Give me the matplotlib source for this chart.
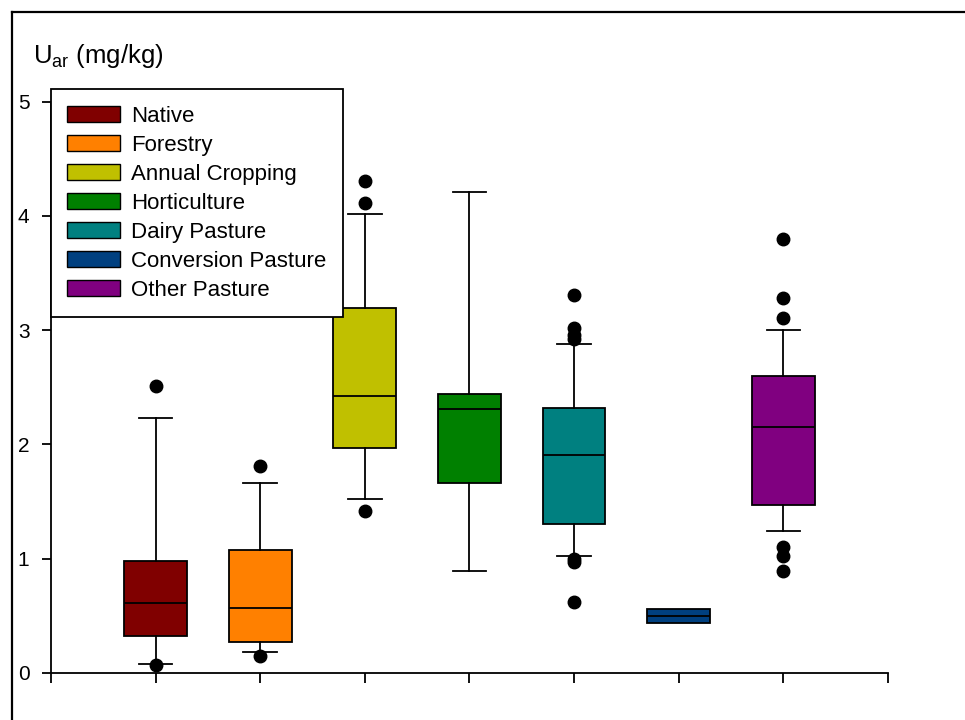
import numpy as np
import matplotlib
matplotlib.use("Agg")
import matplotlib.pyplot as plt
from matplotlib.patches import Patch
from matplotlib.lines import Line2D

plt.rcParams['font.family'] = ['Liberation Sans', 'DejaVu Sans']

# land use classes and box statistics (mg/kg)
labels = ["Native", "Forestry", "Annual Cropping", "Horticulture",
          "Dairy Pasture", "Conversion Pasture", "Other Pasture"]
colors = ["#800000", "#FF8000", "#C0C000", "#008000",
          "#008080", "#004080", "#800080"]
q1 = [0.32, 0.27, 1.97, 1.66, 1.30, 0.44, 1.47]
med = [0.61, 0.57, 2.42, 2.31, 1.91, 0.50, 2.15]
q3 = [0.98, 1.08, 3.19, 2.44, 2.32, 0.56, 2.60]
whislo = [0.08, 0.18, 1.52, 0.89, 1.02, 0.44, 1.24]
whishi = [2.23, 1.66, 4.02, 4.21, 2.88, 0.56, 3.00]
fliers = [[2.51, 0.07],
          [1.81, 0.15],
          [4.31, 4.11, 1.42],
          [],
          [3.31, 3.02, 2.96, 2.92, 1.00, 0.97, 0.62],
          [],
          [3.80, 3.28, 3.11, 1.10, 1.02, 0.89]]

stats = []
for i in range(len(labels)):
    stats.append(dict(q1=q1[i], med=med[i], q3=q3[i], whislo=whislo[i],
                      whishi=whishi[i], fliers=fliers[i], label=labels[i]))

fig = plt.figure(figsize=(9.65, 7.2), dpi=100)
ax = fig.add_axes([0.0528, 0.0653, 0.8674, 0.7935])

pos = np.arange(1, len(labels) + 1)
bp = ax.bxp(stats, positions=pos, widths=0.6, patch_artist=True,
            boxprops=dict(lw=1.3, edgecolor='black'),
            medianprops=dict(color='black', lw=1.3),
            whiskerprops=dict(color='black', lw=1.3),
            capprops=dict(color='black', lw=1.3),
            capwidths=0.32,
            flierprops=dict(marker='o', markerfacecolor='black',
                            markeredgecolor='black', markersize=9))
for b, c in zip(bp['boxes'], colors):
    b.set_facecolor(c)
# no whiskers on the conversion pasture box
for ln in bp['caps'][10:12]:
    ln.set_visible(False)

ax.set_xlim(0, 8)
ax.set_ylim(0, 5)
ax.set_xticks(np.arange(0, 9))
ax.set_xticklabels([])
ax.set_yticks(np.arange(0, 6))
ax.tick_params(axis='y', direction='out', length=6.5, width=1.3, labelsize=15, pad=9)
ax.tick_params(axis='x', direction='out', length=7, width=1.3)
for s in ['top', 'right']:
    ax.spines[s].set_visible(False)
for s in ['left', 'bottom']:
    ax.spines[s].set_linewidth(1.3)

fig.text(0.034, 0.9125, "U$_{\\mathregular{ar}}$ (mg/kg)", fontsize=18.5,
         va='baseline', ha='left')

handles = [Patch(facecolor=c, edgecolor='black', lw=1.0) for c in colors]
leg = fig.legend(handles, labels, loc='upper left',
                 bbox_to_anchor=(0.0525, 0.8764), fontsize=16,
                 fancybox=False, framealpha=1, edgecolor='black',
                 handlelength=2.35, handleheight=0.72, labelspacing=0.36,
                 borderpad=0.75, handletextpad=0.5, borderaxespad=0)
leg.get_frame().set_linewidth(1.3)

# outer frame (top and left edges only)
fig.add_artist(Line2D([12/965, 1], [1 - 12/720, 1 - 12/720],
                      transform=fig.transFigure, color='black', lw=1.6))
fig.add_artist(Line2D([12/965, 12/965], [0, 1 - 12/720],
                      transform=fig.transFigure, color='black', lw=1.6))

fig.savefig("out.png", dpi=100)
